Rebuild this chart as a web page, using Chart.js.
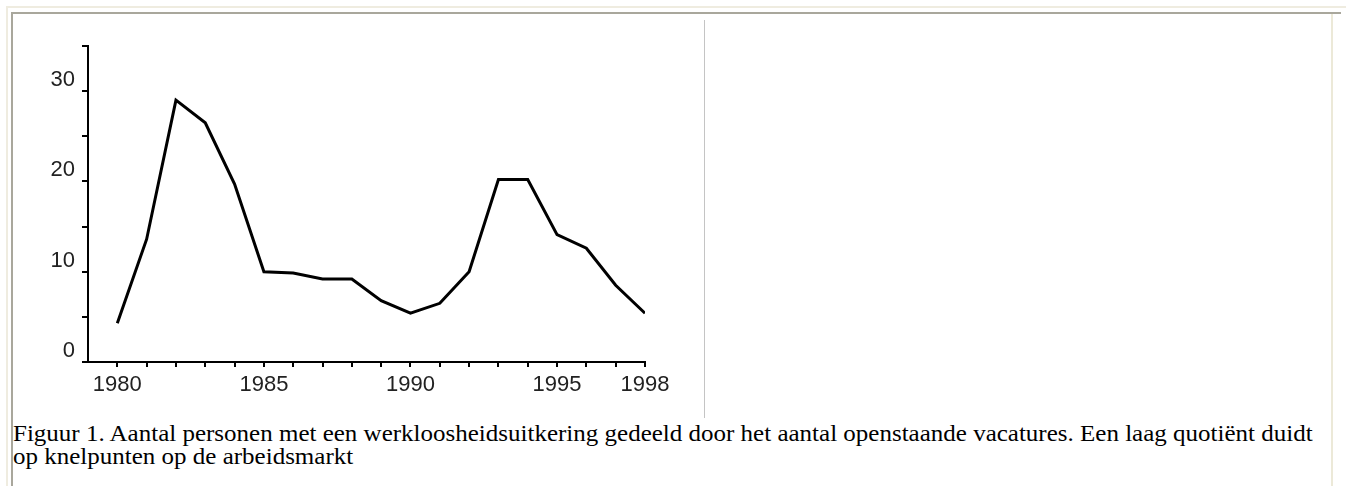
<!DOCTYPE html>
<html>
<head>
<meta charset="utf-8">
<script src="https://cdn.jsdelivr.net/npm/chart.js@4"></script>
<style>
  body { margin: 0; background: #fff; width: 1346px; height: 486px; overflow: hidden; position: relative; }
  .outer { position: absolute; left: 6px; top: 6px; width: 1350px; height: 500px; border-top: 2px solid #efece0; border-left: 2px solid #efece0; }
  .inner { position: absolute; left: 11px; top: 12px; width: 1318px; height: 500px; border-top: 2px solid #a9a79c; border-left: 2px solid #a9a79c; border-right: 2px solid #ece9d8; }
  .topline { position: absolute; left: 11px; top: 12px; width: 1330px; height: 2px; background: #a9a79c; }
  .sep { position: absolute; left: 704px; top: 20px; width: 1px; height: 398px; background: #c4c4c4; }
  .chartbox { position: absolute; left: 0; top: 0; width: 704px; height: 420px; }
  .caption { position: absolute; left: 13px; top: 422px; width: 1312px; font-family: "Liberation Serif", "Times New Roman", serif; font-size: 25px; line-height: 25px; color: #000; transform: scaleY(0.92); transform-origin: 0 0; }
</style>
</head>
<body>
<div class="outer"></div>
<div class="inner"></div>
<div class="topline"></div>
<div class="sep"></div>
<div class="chartbox"><canvas id="quotient"></canvas></div>
<div class="caption">Figuur 1. Aantal personen met een werkloosheidsuitkering gedeeld door het aantal openstaande vacatures. Een laag quotiënt duidt op knelpunten op de arbeidsmarkt</div>
<script>
var years = [1980, 1981, 1982, 1983, 1984, 1985, 1986, 1987, 1988, 1989,
             1990, 1991, 1992, 1993, 1994, 1995, 1996, 1997, 1998];
var quotient = [4.3, 13.6, 29.0, 26.5, 19.7, 10.0, 9.85, 9.2, 9.2, 6.8,
                5.4, 6.5, 10.0, 20.2, 20.2, 14.1, 12.6, 8.5, 5.4];
var xTickLabels = [1980, 1985, 1990, 1995, 1998];
var yTicks = [0, 5, 10, 15, 20, 25, 30, 35];
var yTickLabels = [0, 10, 20, 30];

var tickFont = { family: 'Liberation Sans, Arial, sans-serif', size: 22 };

var ctx = document.getElementById('quotient').getContext('2d');
var myChart = new Chart(ctx, {
  type: 'line',
  data: {
    datasets: [{
      data: years.map(function (y, i) { return { x: y, y: quotient[i] }; }),
      borderColor: '#000',
      borderWidth: 3,
      pointRadius: 0,
      tension: 0,
      fill: false
    }]
  },
  options: {
    responsive: true,
    maintainAspectRatio: false,
    animation: false,
    layout: { padding: { left: 0, top: 46, right: 59, bottom: 0 } },
    plugins: {
      legend: { display: false },
      tooltip: { enabled: false }
    },
    scales: {
      x: {
        type: 'linear',
        min: 1979,
        max: 1998,
        afterBuildTicks: function (scale) {
          scale.ticks = years.map(function (v) { return { value: v }; });
        },
        afterFit: function (scale) { scale.height = 58; },
        ticks: {
          autoSkip: false,
          maxRotation: 0,
          padding: 5,
          color: '#222',
          font: tickFont,
          callback: function (v) { return xTickLabels.indexOf(v) >= 0 ? String(v) : ''; }
        },
        grid: { drawOnChartArea: false, tickLength: 5, color: '#000', lineWidth: 2 },
        border: { display: true, color: '#000', width: 2 }
      },
      y: {
        min: 0,
        max: 35,
        afterBuildTicks: function (scale) {
          scale.ticks = yTicks.map(function (v) { return { value: v }; });
        },
        afterFit: function (scale) { scale.width = 88; },
        ticks: {
          padding: 7,
          labelOffset: -11,
          color: '#222',
          font: tickFont,
          callback: function (v) { return yTickLabels.indexOf(v) >= 0 ? String(v) : ''; }
        },
        grid: { drawOnChartArea: false, tickLength: 6, color: '#000', lineWidth: 2 },
        border: { display: true, color: '#000', width: 2 }
      }
    }
  }
});
</script>
</body>
</html>
